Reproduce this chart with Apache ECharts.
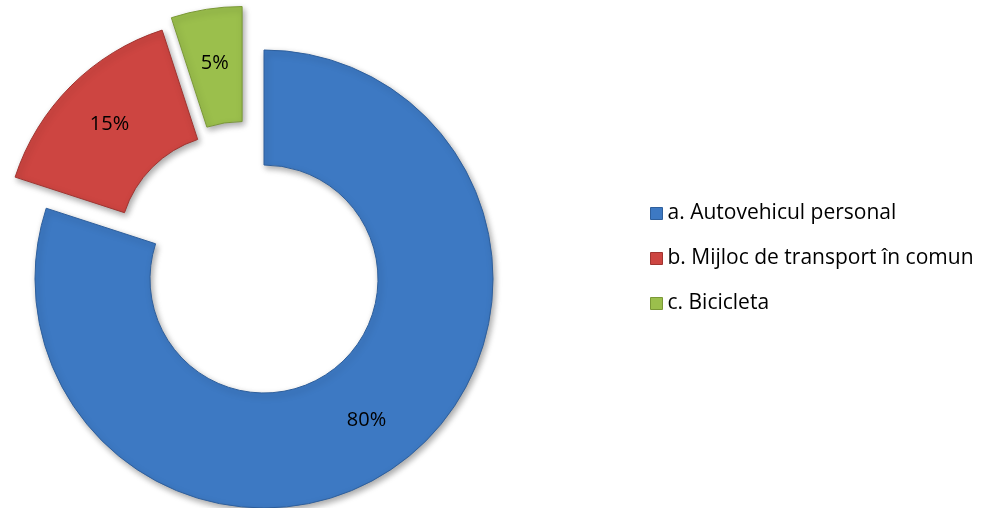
<!DOCTYPE html>
<html>
<head>
<meta charset="utf-8">
<title>Pie</title>
<script src="https://cdn.jsdelivr.net/npm/echarts@6/dist/echarts.min.js"></script>
<style>
  html, body { margin: 0; padding: 0; background: #fff; }
  #chart { width: 997px; height: 508px; }
</style>
</head>
<body>
<div id="chart"></div>
<script>
// categorii si procente
const categories = ['a. Autovehicul personal', 'b. Mijloc de transport în comun', 'c. Bicicleta']
const values = [80, 15, 5]
const exploded = [false, true, true]
const colors = ['#3d79c3', '#cd4541', '#9bbf4c']
const borders = ['#2e5f9c', '#a03430', '#7a9836']

// the green slice sits a bit further left than a radial offset, drawn in its own layer
const shiftedIndex = 2

const chart = echarts.init(document.getElementById('chart'))

const slice = (name, i, visible) => ({
  name: name,
  value: values[i],
  selected: exploded[i],
  label: { show: visible },
  itemStyle: visible ? {
    color: colors[i],
    borderColor: borders[i],
    borderWidth: 1,
    shadowBlur: 6,
    shadowOffsetX: 2,
    shadowOffsetY: 3,
    shadowColor: 'rgba(0,0,0,0.35)'
  } : { color: 'rgba(0,0,0,0)', borderWidth: 0 }
})

const pieBase = {
  type: 'pie',
  radius: [114, 229],
  startAngle: 90,
  clockwise: true,
  selectedMode: 'multiple',
  selectedOffset: 44,
  label: {
    show: true,
    position: 'inside',
    formatter: '{c}%',
    color: '#000',
    fontFamily: 'Open Sans',
    fontSize: 20
  },
  labelLine: { show: false },
  emphasis: { disabled: true }
}

chart.setOption({
  animation: false,
  legend: {
    orient: 'vertical',
    left: 650,
    top: 203,
    padding: 0,
    icon: 'rect',
    itemWidth: 12,
    itemHeight: 12,
    itemGap: 24,
    data: categories.map((name, i) => ({
      name: name,
      itemStyle: { color: colors[i], borderColor: borders[i], borderWidth: 1 }
    })),
    textStyle: {
      fontFamily: 'Open Sans',
      fontSize: 21,
      lineHeight: 21,
      color: '#000'
    }
  },
  series: [
    Object.assign({}, pieBase, {
      name: 'transport',
      center: [264, 279],
      data: categories.map((name, i) => slice(name, i, i !== shiftedIndex))
    }),
    Object.assign({}, pieBase, {
      name: 'transport ',
      center: [249, 279],
      silent: true,
      data: categories.map((name, i) => slice(name, i, i === shiftedIndex))
    })
  ]
})
</script>
</body>
</html>
